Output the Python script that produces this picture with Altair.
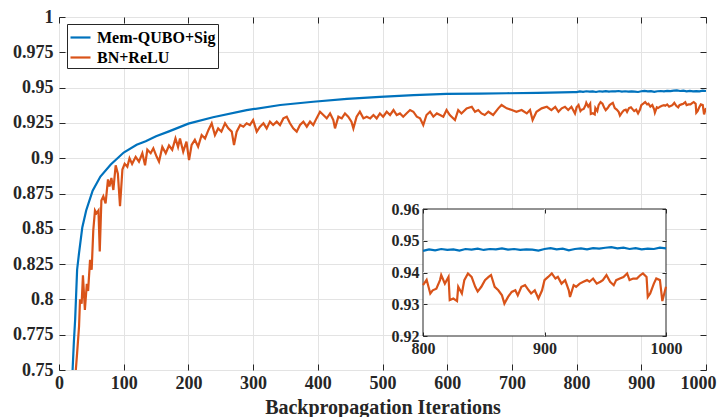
import altair as alt
import pandas as pd

FONT = "Liberation Serif"
INK = "#262626"
GRID = "#e3e3e3"

SERIES = ["Mem-QUBO+Sig", "BN+ReLU"]
COLORS = ["#0072BD", "#D95319"]

# ---- main curves, iterations < 800 ----
blue_iter = [17, 21, 23, 25, 28, 31, 36, 42, 52, 64, 80, 100, 120, 134, 150, 170, 200,
             238, 290, 342, 393, 445, 496, 548, 599, 650, 692, 740, 795]
blue_acc = [0.70, 0.75, 0.77, 0.786, 0.821, 0.833, 0.851, 0.863, 0.877, 0.887, 0.8955,
            0.904, 0.9095, 0.912, 0.9155, 0.919, 0.9245, 0.929, 0.934, 0.9377, 0.940,
            0.942, 0.9435, 0.9447, 0.9455, 0.9458, 0.946, 0.9463, 0.9468]

orange_iter = [23, 26, 28, 31, 32.5, 35, 37, 40, 43, 45, 48, 50.5, 53, 55.6, 58, 61, 63,
               65.5, 68.5, 72, 75.7, 78, 81, 84, 87.6, 91, 94.3, 98, 101.5, 105.6, 109,
               113, 118.5, 123.6, 128.8, 133, 136.5, 141.7, 145.8, 151, 154.6, 159.7, 165,
               170, 175, 180, 184, 187, 192, 197, 201, 205, 210, 215, 220.5, 225.7, 231,
               236, 241, 246, 251, 256.6, 261.7, 267, 270.5, 274.6, 280, 285, 290, 295,
               300, 305.6, 310.7, 316, 321, 326, 331, 336.5, 341.6, 346.8, 352, 357, 362,
               367.4, 372.5, 377.7, 383, 388, 393, 398, 403.4, 408.6, 413.8, 419, 424,
               426.6, 431.8, 437, 442, 447, 452, 455, 460, 465, 470.5, 475.6, 481, 486,
               491, 496, 501, 506.5, 511.7, 517, 522, 527, 532, 537, 542.6, 547.7, 553,
               558, 563, 568, 573.5, 578.6, 584, 589, 594, 599, 604, 612, 617, 622, 630,
               638, 643, 648, 653, 658, 663.6, 671, 679, 684, 692, 700, 707, 715, 723,
               728, 732, 738, 746, 754, 761, 767, 772, 777, 782, 787, 792, 797.5]
orange_acc = [0.70, 0.75, 0.762, 0.781, 0.80, 0.797, 0.817, 0.7925, 0.811, 0.806, 0.828,
              0.821, 0.849, 0.863, 0.861, 0.863, 0.834, 0.870, 0.873, 0.868, 0.885, 0.880,
              0.886, 0.8775, 0.895, 0.889, 0.866, 0.892, 0.896, 0.894, 0.900, 0.896, 0.901,
              0.8976, 0.9035, 0.895, 0.906, 0.9035, 0.907, 0.901, 0.8976, 0.908, 0.9035,
              0.909, 0.906, 0.914, 0.908, 0.914, 0.9046, 0.9117, 0.8987, 0.9094, 0.913,
              0.9082, 0.9164, 0.914, 0.92, 0.9247, 0.9164, 0.9211, 0.9188, 0.9247, 0.9211,
              0.9188, 0.9093, 0.9188, 0.9235, 0.9223, 0.9247, 0.9235, 0.927, 0.9188,
              0.9223, 0.9247, 0.9211, 0.9259, 0.9235, 0.9259, 0.9235, 0.9282, 0.9294,
              0.9247, 0.9211, 0.9188, 0.9235, 0.9259, 0.9223, 0.9259, 0.9235, 0.9282,
              0.9329, 0.9306, 0.9282, 0.9317, 0.927, 0.9211, 0.9294, 0.9282, 0.9317,
              0.9294, 0.9259, 0.9211, 0.9294, 0.9329, 0.9282, 0.9294, 0.9282, 0.9306,
              0.9282, 0.9317, 0.9294, 0.9329, 0.9306, 0.9341, 0.9306, 0.9317, 0.9294,
              0.9317, 0.9341, 0.9329, 0.9294, 0.9282, 0.9235, 0.9306, 0.9329, 0.9294,
              0.9317, 0.9306, 0.9294, 0.9341, 0.9306, 0.927, 0.9341, 0.9317, 0.9353,
              0.9364, 0.9329, 0.9341, 0.9317, 0.9306, 0.9329, 0.9306, 0.9353, 0.9377,
              0.9353, 0.9341, 0.9329, 0.9341, 0.9317, 0.9341, 0.927, 0.9329, 0.9353,
              0.9364, 0.9341, 0.9364, 0.9329, 0.9353, 0.9364, 0.9341, 0.9364, 0.9317]

# ---- iterations 800-1000 (main plot and inset) ----
inset_blue_iter = [800, 805, 810, 815, 820, 825, 830, 835, 840, 845, 850, 855, 860, 865,
                   870, 875, 880, 885, 890, 895, 900, 905, 910, 915, 920, 925, 930, 935,
                   940, 945, 950, 955, 960, 965, 970, 975, 980, 985, 990, 995, 1000]
inset_blue_acc = [0.9468, 0.9473, 0.9470, 0.9474, 0.9471, 0.9473, 0.9469, 0.9474, 0.9472,
                  0.9475, 0.9471, 0.9474, 0.9473, 0.9476, 0.9472, 0.9474, 0.9471, 0.9473,
                  0.9472, 0.9469, 0.9474, 0.9477, 0.9473, 0.9475, 0.9470, 0.9474, 0.9476,
                  0.9473, 0.9477, 0.9475, 0.9478, 0.9480, 0.9476, 0.9478, 0.9474, 0.9477,
                  0.9473, 0.9475, 0.9474, 0.9478, 0.9476]
inset_orange_iter = [800, 803, 806, 808, 811, 814, 815, 818, 821, 822, 825, 828, 829, 832,
                     834, 837, 840, 843, 845, 848, 851, 854, 856, 859, 862, 865, 867, 870,
                     873, 876, 878, 881, 884, 887, 889, 892, 895, 898, 900, 903, 906, 909,
                     911, 914, 917, 920, 921, 924, 926, 929, 932, 935, 937, 940, 943, 946,
                     948, 951, 954, 957, 959, 962, 965, 968, 970, 973, 976, 979, 981, 984,
                     985, 987, 990, 992, 995, 997, 1000]
inset_orange_acc = [0.936, 0.9377, 0.9334, 0.9344, 0.9349, 0.9376, 0.9392, 0.9365, 0.9386,
                    0.9313, 0.9318, 0.931, 0.9355, 0.9334, 0.9376, 0.9397, 0.9386, 0.9355,
                    0.934, 0.9355, 0.9376, 0.9386, 0.9392, 0.9355, 0.9344, 0.9328, 0.9302,
                    0.9323, 0.9339, 0.9344, 0.9328, 0.9355, 0.936, 0.9344, 0.9334, 0.9344,
                    0.9318, 0.9344, 0.9376, 0.9386, 0.9397, 0.9381, 0.9386, 0.9365, 0.9376,
                    0.9344, 0.9323, 0.936, 0.9355, 0.9365, 0.9371, 0.9376, 0.9371, 0.9381,
                    0.9365, 0.9371, 0.9376, 0.9392, 0.9371, 0.936, 0.9376, 0.9381, 0.9386,
                    0.9397, 0.9376, 0.9381, 0.9381, 0.9392, 0.9397, 0.9386, 0.9323, 0.9334,
                    0.9365, 0.9381, 0.9376, 0.931, 0.9355]

# ---- axes ----
x_ticks = [0, 100, 200, 300, 400, 500, 600, 700, 800, 900, 1000]
y_ticks = [0.75, 0.775, 0.8, 0.825, 0.85, 0.875, 0.9, 0.925, 0.95, 0.975, 1]
main_x_domain = [0, 1000]
main_y_domain = [0.75, 1]
inset_x_ticks = [800, 900, 1000]
inset_y_ticks = [0.92, 0.93, 0.94, 0.95, 0.96]
inset_x_domain = [800, 1000]
inset_y_domain = [0.92, 0.96]
x_title = "Backpropagation Iterations"

assert len(blue_iter) == len(blue_acc)
assert len(orange_iter) == len(orange_acc)
assert len(inset_blue_iter) == len(inset_blue_acc)
assert len(inset_orange_iter) == len(inset_orange_acc)

# layout (pixels)
W, H = 647, 353
IX = [364, 607]   # inset x range inside plot
IY = [319, 192]   # inset y range inside plot

df_main = pd.DataFrame({
    "it": blue_iter + inset_blue_iter + orange_iter + inset_orange_iter,
    "acc": blue_acc + inset_blue_acc + orange_acc + inset_orange_acc,
    "series": [SERIES[0]] * (len(blue_iter) + len(inset_blue_iter))
              + [SERIES[1]] * (len(orange_iter) + len(inset_orange_iter)),
})
df_inset = pd.DataFrame({
    "it": inset_blue_iter + inset_orange_iter,
    "acc": inset_blue_acc + inset_orange_acc,
    "series": [SERIES[0]] * len(inset_blue_iter) + [SERIES[1]] * len(inset_orange_iter),
})
box_df = pd.DataFrame({"x0": [inset_x_domain[0]], "x1": [inset_x_domain[1]],
                       "y0": [inset_y_domain[0]], "y1": [inset_y_domain[1]]})
vgrid_df = pd.DataFrame({"v": inset_x_ticks[1:-1]})
vgrid_df["y0"], vgrid_df["y1"] = inset_y_domain[0], inset_y_domain[1]
hgrid_df = pd.DataFrame({"v": inset_y_ticks[1:-1]})
hgrid_df["x0"], hgrid_df["x1"] = inset_x_domain[0], inset_x_domain[1]

color_scale = alt.Scale(domain=SERIES, range=COLORS)


def mx():
    return alt.Scale(domain=main_x_domain, nice=False, zero=False)


def my():
    return alt.Scale(domain=main_y_domain, nice=False, zero=False)


def ix():
    return alt.Scale(domain=inset_x_domain, range=IX, nice=False, zero=False)


def iy():
    return alt.Scale(domain=inset_y_domain, range=IY, nice=False, zero=False)


def tick_axis(values, orient, offset, size):
    return alt.Axis(values=values, orient=orient, offset=offset, labels=False,
                    domain=False, grid=False, ticks=True, tickSize=size,
                    tickColor=INK, tickWidth=1, title=None, zindex=1)


lbl = dict(labelFont=FONT, labelFontWeight="bold", labelColor=INK,
           labelFlush=False, labelOverlap=False)

# keep the last x label inside the page
last_label_shift = {"condition": {"test": "datum.value == %d" % x_ticks[-1], "value": -8},
                    "value": 0}

main = alt.Chart(df_main).mark_line(strokeWidth=2.2, clip=True).encode(
    x=alt.X("it:Q", scale=mx(), axis=alt.Axis(
        values=x_ticks, format="d", title=x_title, titleFont=FONT, titleFontSize=20,
        titleFontWeight="bold", titleColor=INK, titlePadding=5, ticks=False,
        domain=False, grid=True, gridColor=GRID, labelPadding=4, labelFontSize=18,
        labelOffset=last_label_shift, **lbl)),
    y=alt.Y("acc:Q", scale=my(), axis=alt.Axis(
        values=y_ticks, format=".3~g", title=None, ticks=False, domain=False, grid=True,
        gridColor=GRID, labelPadding=6, labelFontSize=18, **lbl)),
    color=alt.Color("series:N", scale=color_scale, legend=alt.Legend(
        title=None, orient="none", legendX=8, legendY=7, direction="vertical",
        symbolType="stroke", symbolSize=400, symbolStrokeWidth=2.2,
        labelFont=FONT, labelFontSize=16, labelFontWeight="bold", labelColor="black",
        padding=2, strokeColor=INK, fillColor="white", labelOffset=5, rowPadding=0,
        cornerRadius=0)),
)

main_ticks_a = alt.Chart(df_main).mark_line(opacity=0).encode(
    x=alt.X("it:Q", scale=mx(), axis=tick_axis(x_ticks, "top", -H, 6)),
    y=alt.Y("acc:Q", scale=my(), axis=tick_axis(y_ticks, "right", -W, 6)),
)
main_ticks_b = alt.Chart(df_main).mark_line(opacity=0).encode(
    x=alt.X("it:Q", scale=mx(), axis=tick_axis(x_ticks, "bottom", -H, 6)),
    y=alt.Y("acc:Q", scale=my(), axis=tick_axis(y_ticks, "left", -W, 6)),
)

inset_box = alt.Chart(box_df).mark_rect(fill="white", stroke=INK, strokeWidth=1).encode(
    x=alt.X("x0:Q", scale=ix(), axis=alt.Axis(
        values=inset_x_ticks, format="d", orient="bottom", offset=-(H - IY[0]),
        ticks=False, domain=False, grid=False, title=None, labelPadding=4,
        labelFontSize=16, zindex=1, **lbl)),
    x2="x1:Q",
    y=alt.Y("y0:Q", scale=iy(), axis=alt.Axis(
        values=inset_y_ticks, format=".2~g", orient="left", offset=-IX[0],
        ticks=False, domain=False, grid=False, title=None, labelPadding=4,
        labelFontSize=16, zindex=1, **lbl)),
    y2="y1:Q",
)

inset_vgrid = alt.Chart(vgrid_df).mark_rule(color=GRID, strokeWidth=1).encode(
    x=alt.X("v:Q", scale=ix(), axis=None),
    y=alt.Y("y0:Q", scale=iy(), axis=None), y2="y1:Q",
)
inset_hgrid = alt.Chart(hgrid_df).mark_rule(color=GRID, strokeWidth=1).encode(
    y=alt.Y("v:Q", scale=iy(), axis=None),
    x=alt.X("x0:Q", scale=ix(), axis=None), x2="x1:Q",
)

inset_lines = alt.Chart(df_inset).mark_line(strokeWidth=2.2).encode(
    x=alt.X("it:Q", scale=ix(), axis=None),
    y=alt.Y("acc:Q", scale=iy(), axis=None),
    color=alt.Color("series:N", scale=color_scale, legend=None),
)

inset_ticks_a = alt.Chart(df_inset).mark_line(opacity=0).encode(
    x=alt.X("it:Q", scale=ix(), axis=tick_axis(inset_x_ticks, "top", -IY[0], 4)),
    y=alt.Y("acc:Q", scale=iy(), axis=tick_axis(inset_y_ticks, "right", -(W - IX[0]), 4)),
)
inset_ticks_b = alt.Chart(df_inset).mark_line(opacity=0).encode(
    x=alt.X("it:Q", scale=ix(), axis=tick_axis(inset_x_ticks, "bottom", -(H - IY[1]), 4)),
    y=alt.Y("acc:Q", scale=iy(), axis=tick_axis(inset_y_ticks, "left", -IX[1], 4)),
)

chart = alt.layer(
    main, main_ticks_a, main_ticks_b, inset_box, inset_vgrid, inset_hgrid,
    inset_lines, inset_ticks_a, inset_ticks_b,
).resolve_scale(
    x="independent", y="independent"
).properties(
    width=W, height=H,
    padding={"left": 51, "top": 9, "right": 11, "bottom": 47},
    autosize=alt.AutoSizeParams(type="none"),
    background="white",
).configure_view(stroke=INK, strokeWidth=1)

chart.save("out.html", embed_options={"renderer": "svg", "actions": False})
